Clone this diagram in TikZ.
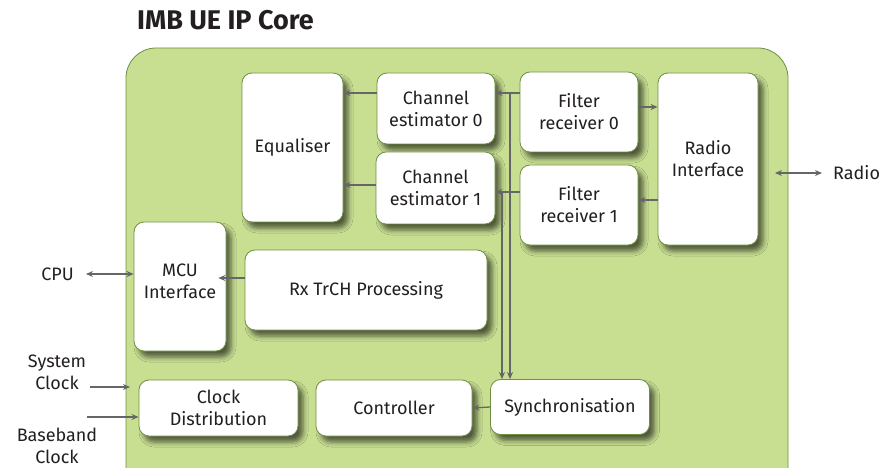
\documentclass[tikz,border=0pt]{standalone}
\usepackage{fontspec}
\setmainfont{Fira Sans}
\usetikzlibrary{arrows.meta,shadows.blur}

\definecolor{coregreen}{HTML}{C8DF92}
\definecolor{edgegreen}{HTML}{6E9040}
\definecolor{linegray}{HTML}{666666}
\definecolor{textgray}{HTML}{231F20}

\tikzset{
    block/.style={draw=edgegreen, fill=white, rounded corners=10pt, line width=0.8pt,
        align=center, inner sep=0pt, text=textgray,
        font=\fontsize{18}{22}\selectfont,
        blur shadow={shadow xshift=5pt, shadow yshift=-6pt, shadow blur radius=5pt, shadow opacity=60}},
    outside/.style={align=center, inner sep=0pt, text=textgray, font=\fontsize{18}{22}\selectfont},
    flow/.style={draw=linegray, line width=1.3pt, -{Stealth[length=7pt,width=6pt]}},
    twoway/.style={draw=linegray, line width=1.3pt, {Stealth[length=7pt,width=6pt]}-{Stealth[length=7pt,width=6pt]}},
}

\begin{document}
\begin{tikzpicture}[x=1pt,y=-1pt]
        \useasboundingbox (0,0) rectangle (895,468);
        \clip (0,0) rectangle (895,468);

        % core area
        \filldraw[fill=coregreen, draw=edgegreen, line width=0.8pt, rounded corners=30pt] (126,48) rectangle (788,520);
        \node[anchor=west, inner sep=0pt, text=textgray, font=\bfseries\fontsize{27}{30}\selectfont] (title) at (137,20) {IMB UE IP Core};

        % blocks
        \node[block, minimum width=101pt, minimum height=149pt] (eq) at (292.5,147.5) {Equaliser};
        \node[block, minimum width=118pt, minimum height=71pt] (ce0) at (436,108.5) {Channel\\estimator 0};
        \node[block, minimum width=119pt, minimum height=72pt] (ce1) at (435.5,188) {Channel\\estimator 1};
        \node[block, minimum width=118pt, minimum height=80pt] (fr0) at (579,112) {Filter\\receiver 0};
        \node[block, minimum width=118pt, minimum height=80pt] (fr1) at (579,205) {Filter\\receiver 1};
        \node[block, minimum width=100pt, minimum height=172pt] (radio) at (708,159) {Radio\\Interface};
        \node[block, minimum width=92pt, minimum height=129pt] (mcu) at (180,286.5) {MCU\\Interface\\[-12pt]{}};
        \node[block, minimum width=242pt, minimum height=80pt] (rx) at (366,290) {Rx TrCH Processing};
        \node[block, minimum width=159pt, minimum height=56pt] (clk) at (218.5,408) {Clock\\Distribution};
        \node[block, minimum width=156pt, minimum height=56pt] (ctrl) at (394,408) {Controller};
        \node[block, minimum width=159pt, minimum height=55pt] (sync) at (570,407) {Synchronisation};

        % outside labels
        \node[outside, anchor=west] (radiolbl) at (833,173) {Radio};
        \node[outside, anchor=east] (cpu) at (74,274) {CPU};
        \node[outside] (sysclk) at (57,372) {System\\Clock};
        \node[outside] (bbclk) at (57,446) {Baseband\\Clock};

        % taps
        \coordinate (bus0) at (510,93);
        \coordinate (bus1) at (502,192);
        \coordinate (eqin1) at (376,185);
        \coordinate (rxout) at (245,278);
        \coordinate (radioport) at (775,173);
        \coordinate (sysin) at (90,387);
        \coordinate (bbin) at (87,417);

        % connectors
        \draw[flow] (fr0.west |- bus0) -- (ce0.east |- bus0);
        \draw[flow] (bus0) -- (bus0 |- sync.north);
        \draw[flow] (fr1.west |- bus1) -- (ce1.east |- bus1);
        \draw[flow] (bus1) -- (bus1 |- sync.north);
        \draw[flow] (ce0.west |- bus0) -- (eq.east |- bus0);
        \draw[flow] (eqin1) -- (eq.east |- eqin1);
        \draw[flow] ([yshift=5pt]fr0.east) -- ([yshift=5pt]fr0.east -| radio.west);
        \draw[flow] ([yshift=5pt]fr1.east -| radio.west) -- ([yshift=5pt]fr1.east);
        \draw[flow] (sync.west) -- (ctrl.east);
        \draw[flow] (rxout) -- ([xshift=-8pt]rxout -| mcu.east);
        \draw[twoway] (radioport) -- (radiolbl.west -| 822,0);
        \draw[twoway] ([xshift=12pt]cpu.east) -- (mcu.west |- cpu);
        \draw[flow] (sysin) -- (130,387);
        \draw[flow] (bbin) -- (clk.west |- bbin);
\end{tikzpicture}
\end{document}
